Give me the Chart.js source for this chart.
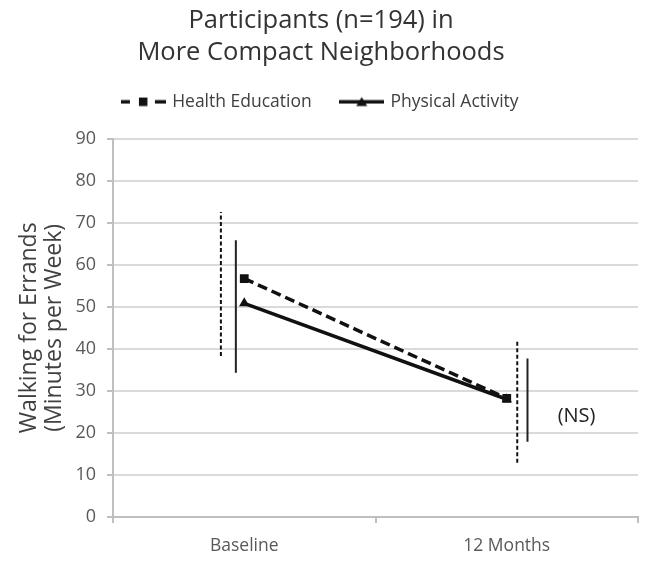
<!DOCTYPE html>
<html>
<head>
<meta charset="utf-8">
<script src="https://cdn.jsdelivr.net/npm/chart.js@4/dist/chart.umd.min.js"></script>
<style>
  html, body { margin: 0; padding: 0; background: #ffffff; }
  canvas { display: block; }
</style>
</head>
<body>
<canvas id="chart" width="651" height="562"></canvas>
<script>
// ---- data ----
const titleLines = ['Participants (n=194) in', 'More Compact Neighborhoods'];
const categories = ['Baseline', '12 Months'];
const seriesNames = ['Health Education', 'Physical Activity'];
const healthMeans = [56.7, 28.2];
const activityMeans = [50.8, 28.0];
const healthLow = [38.3, 12.9];
const healthHigh = [72.5, 41.9];
const activityLow = [34.3, 17.9];
const activityHigh = [65.8, 37.7];
const yTitleLines = ['Walking for Errands', '(Minutes per Week)'];
const yMin = 0, yMax = 90, yStep = 10;
const noteText = '(NS)';

// ---- layout constants (x in category units, each category is 1 wide) ----
const healthBarShift = [-0.089, 0.040];
const activityBarShift = [-0.032, 0.079];
const noteShift = 0.266;
const noteLevel = 24;
const FONT = 'Open Sans';
const INK = '#111111';

const center = i => i + 0.5;

function meanPoints(values) {
  return values.map((v, i) => ({ x: center(i), y: v }));
}
function rangePoints(low, high, shift) {
  const pts = [];
  low.forEach((lo, i) => {
    const x = center(i) + shift[i];
    pts.push({ x, y: lo }, { x, y: high[i] }, { x, y: null });
  });
  return pts;
}

// legend swatches: line sample with its marker
function swatch(kind) {
  const c = document.createElement('canvas');
  c.width = 45; c.height = 12;
  const g = c.getContext('2d');
  g.fillStyle = INK;
  if (kind === 'dashed') {
    g.fillRect(0, 4.5, 9, 3.5);
    g.fillRect(18, 2, 8.5, 8.5);
    g.fillRect(34, 4.5, 11, 3.5);
  } else {
    g.fillRect(0, 4.5, 45, 3.5);
    g.beginPath();
    g.moveTo(17, 10.5);
    g.lineTo(28, 10.5);
    g.lineTo(22.5, 1.5);
    g.closePath();
    g.fill();
  }
  return c;
}
const swatches = [swatch('dashed'), swatch('solid')];

const notePlugin = {
  id: 'noteLabel',
  afterDatasetsDraw(chart) {
    const { ctx, scales } = chart;
    const x = scales.x.getPixelForValue(center(1) + noteShift);
    const y = scales.y.getPixelForValue(noteLevel);
    ctx.save();
    ctx.font = `20px "${FONT}"`;
    ctx.fillStyle = '#222222';
    ctx.textAlign = 'center';
    ctx.textBaseline = 'middle';
    ctx.fillText(noteText, x, y);
    ctx.restore();
  }
};

new Chart(document.getElementById('chart'), {
  type: 'line',
  data: {
    datasets: [
      {
        label: seriesNames[0],
        data: meanPoints(healthMeans),
        borderColor: INK,
        borderWidth: 3.5,
        borderDash: [10, 5],
        pointStyle: 'rect',
        pointRadius: 6.2,
        pointBackgroundColor: INK,
        pointBorderWidth: 0
      },
      {
        label: seriesNames[1],
        data: meanPoints(activityMeans),
        borderColor: INK,
        borderWidth: 3.5,
        pointStyle: 'triangle',
        pointRadius: 6,
        pointBackgroundColor: INK,
        pointBorderWidth: 0
      },
      {
        label: seriesNames[0] + ' range',
        data: rangePoints(healthLow, healthHigh, healthBarShift),
        borderColor: INK,
        borderWidth: 2,
        borderDash: [4, 2.5],
        pointRadius: 0,
        spanGaps: false
      },
      {
        label: seriesNames[1] + ' range',
        data: rangePoints(activityLow, activityHigh, activityBarShift),
        borderColor: '#222222',
        borderWidth: 2,
        pointRadius: 0,
        spanGaps: false
      }
    ]
  },
  options: {
    responsive: false,
    animation: false,
    events: [],
    devicePixelRatio: 1,
    layout: { padding: { left: 0, right: 9, top: 0, bottom: 0 } },
    plugins: {
      title: {
        display: true,
        text: titleLines,
        color: '#333333',
        font: { family: FONT, size: 25.5, weight: 'normal', lineHeight: 1.275 },
        padding: { top: 4, bottom: -6.25 }
      },
      subtitle: {
        display: true,
        text: '',
        weight: 500,
        font: { family: FONT, size: 1, lineHeight: 1 },
        padding: { top: 17.25, bottom: 0 }
      },
      legend: {
        display: true,
        position: 'top',
        labels: {
          usePointStyle: true,
          pointStyleWidth: 40,
          padding: 30,
          color: '#404040',
          font: { family: FONT, size: 17.5 },
          filter: item => item.datasetIndex < 2,
          generateLabels(chart) {
            const items = Chart.defaults.plugins.legend.labels.generateLabels(chart);
            items.forEach(item => { item.pointStyle = swatches[item.datasetIndex] || item.pointStyle; });
            return items;
          }
        }
      },
      tooltip: { enabled: false }
    },
    scales: {
      x: {
        type: 'linear',
        min: 0,
        max: categories.length,
        ticks: {
          stepSize: 0.5,
          autoSkip: false,
          maxRotation: 0,
          padding: 13,
          color: '#595959',
          font: { family: FONT, size: 17.5 },
          callback: v => {
            const i = v - 0.5;
            return Number.isInteger(i) && categories[i] !== undefined ? categories[i] : '';
          }
        },
        grid: {
          drawOnChartArea: false,
          tickLength: 6,
          lineWidth: 2,
          color: c => (c.tick && Number.isInteger(c.tick.value)) ? '#bfbfbf' : 'rgba(0,0,0,0)',
          tickColor: c => (c.tick && Number.isInteger(c.tick.value)) ? '#bfbfbf' : 'rgba(0,0,0,0)'
        },
        border: { color: '#bfbfbf', width: 2 },
        afterFit: s => { s.height = 45; }
      },
      y: {
        type: 'linear',
        min: yMin,
        max: yMax,
        ticks: {
          stepSize: yStep,
          padding: 11,
          color: '#595959',
          font: { family: FONT, size: 18 }
        },
        grid: {
          color: '#dadada',
          lineWidth: 2,
          tickLength: 6,
          tickColor: '#bfbfbf'
        },
        border: { color: '#bfbfbf', width: 2 },
        title: {
          display: true,
          text: yTitleLines,
          color: '#404040',
          font: { family: FONT, size: 23, lineHeight: 1.1 },
          padding: { top: 17, bottom: 0 }
        },
        afterFit: s => { s.width = 113; }
      }
    }
  },
  plugins: [notePlugin]
});
</script>
</body>
</html>
